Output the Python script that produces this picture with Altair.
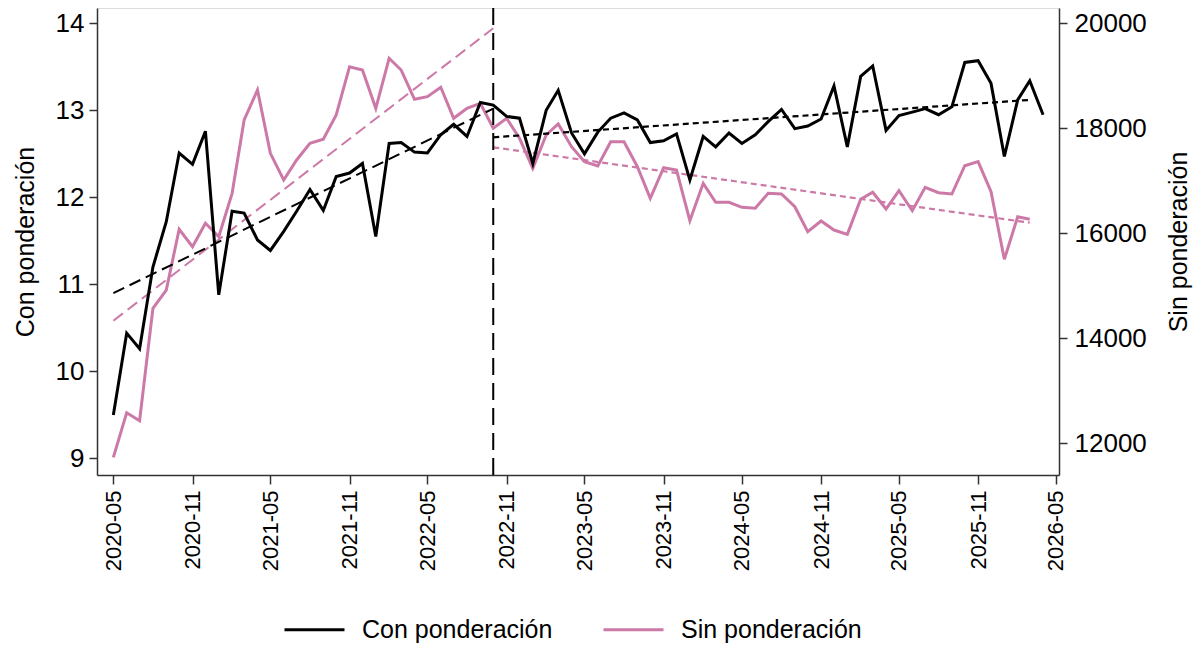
import altair as alt
import pandas as pd

# ---------------- data ----------------
months = pd.date_range("2020-05-01", periods=72, freq="MS")
dates = [d.strftime("%Y-%m-%dT00:00:00") for d in months]

con_ponderacion = [
    9.50, 10.44, 10.26, 11.20, 11.72, 12.51, 12.38, 12.76, 10.88, 11.84, 11.82, 11.51,
    11.39, 11.61, 11.84, 12.09, 11.85, 12.24, 12.28, 12.39, 11.55, 12.62, 12.63, 12.52,
    12.51, 12.72, 12.84, 12.70, 13.09, 13.06, 12.93, 12.91, 12.39, 13.00, 13.23, 12.74,
    12.50, 12.75, 12.91, 12.97, 12.89, 12.63, 12.65, 12.73, 12.20, 12.70, 12.58, 12.74,
    12.62, 12.72, 12.87, 13.01, 12.79, 12.82, 12.90, 13.28, 12.58, 13.39, 13.51, 12.77,
    12.94, 12.98, 13.02, 12.95, 13.04, 13.55, 13.57, 13.31, 12.47, 13.12, 13.34, 12.95,
]
sin_ponderacion = [
    11732, 12582, 12430, 14571, 14919, 16076, 15744, 16190, 15935, 16761, 18158, 18729,
    17523, 17015, 17396, 17714, 17790, 18253, 19173, 19110, 18381, 19333, 19110, 18552,
    18602, 18781, 18190, 18381, 18476, 18000, 18190, 17809, 17238, 17872, 18082, 17649,
    17364, 17282, 17744, 17744, 17268, 16666, 17249, 17205, 16240, 16952, 16590, 16590,
    16495, 16476, 16762, 16748, 16506, 16030, 16234, 16062, 15980, 16647, 16781, 16462,
    16811, 16430, 16876, 16773, 16748, 17287, 17364, 16792, 15504, 16316, 16266, None,
]

series_names = ["Con ponderación", "Sin ponderación"]
series_colors = ["#000000", "#CC79A7"]

break_date = ["2022-10-01T00:00:00"]
pre_dates = ["2020-05-01T00:00:00", "2022-10-01T00:00:00"]
pre_con = [10.90, 13.02]
pre_sin = [14335, 19905]
post_dates = ["2022-10-01T00:00:00", "2026-03-01T00:00:00"]
post_con = [12.69, 13.12]
post_sin = [17638, 16202]

x_tick_labels = ["2020-05", "2020-11", "2021-05", "2021-11", "2022-05", "2022-11",
                 "2023-05", "2023-11", "2024-05", "2024-11", "2025-05", "2025-11", "2026-05"]
left_ticks = [9, 10, 11, 12, 13, 14]
right_ticks = [12000, 14000, 16000, 18000, 20000]

# ---------------- tables ----------------
df = pd.DataFrame({"date": dates, "con": con_ponderacion, "sin": sin_ponderacion})
df_pre = pd.DataFrame({"date": pre_dates, "con": pre_con, "sin": pre_sin})
df_post = pd.DataFrame({"date": post_dates, "con": post_con, "sin": post_sin})
df_break = pd.DataFrame({"date": break_date})

FONT = "Liberation Sans"
AXC = "#333333"

x_values = [alt.DateTime(year=int(s[:4]), month=int(s[5:]), date=1) for s in x_tick_labels]
x_enc = alt.X(
    "date:T",
    scale=alt.Scale(
        domain=[alt.DateTime(year=2020, month=3, date=24), alt.DateTime(year=2026, month=5, date=8)],
        nice=False,
    ),
    axis=alt.Axis(
        values=x_values, format="%Y-%m", labelAngle=270, title=None, grid=False,
        tickSize=9, labelPadding=6, labelFontSize=22, labelFont=FONT,
        domainColor=AXC, tickColor=AXC, domainWidth=1.5, tickWidth=1.5,
        labelColor="black",
    ),
)

left_scale = alt.Scale(domain=[8.81, 14.176], nice=False, zero=False)
right_scale = alt.Scale(domain=[11396, 20291], nice=False, zero=False)

color_enc = alt.Color(
    "serie:N",
    scale=alt.Scale(domain=series_names, range=series_colors),
    legend=alt.Legend(
        title=None, orient="none", direction="horizontal", legendX=186, legendY=590,
        symbolType="stroke", symbolSize=3600, symbolStrokeWidth=3,
        labelFontSize=25, labelFont=FONT, labelColor="black", labelLimit=400,
        labelOffset=16, columnPadding=44, padding=0,
    ),
)

black_line = (
    alt.Chart(df)
    .transform_calculate(serie="'Con ponderación'")
    .mark_line(strokeWidth=3)
    .encode(
        x=x_enc,
        y=alt.Y(
            "con:Q", scale=left_scale,
            axis=alt.Axis(
                orient="left", values=left_ticks, title="Con ponderación", grid=False,
                tickSize=8, labelPadding=5, labelFontSize=26, labelFont=FONT,
                titleFontSize=25, titleFont=FONT, titleFontWeight="normal",
                titlePadding=17, domainColor=AXC, tickColor=AXC,
                domainWidth=1.5, tickWidth=1.5, labelColor="black", titleColor="black",
            ),
        ),
        color=color_enc,
    )
)
black_pre = alt.Chart(df_pre).mark_line(strokeWidth=2, strokeDash=[12, 6], color="#000000").encode(
    x="date:T", y=alt.Y("con:Q", scale=left_scale, axis=None))
black_post = alt.Chart(df_post).mark_line(strokeWidth=2.2, strokeDash=[6, 4], color="#000000").encode(
    x="date:T", y=alt.Y("con:Q", scale=left_scale, axis=None))
vrule = alt.Chart(df_break).mark_rule(strokeWidth=2, strokeDash=[17, 8], color="#000000").encode(
    x="date:T")

pink_line = (
    alt.Chart(df)
    .transform_calculate(serie="'Sin ponderación'")
    .mark_line(strokeWidth=3)
    .encode(
        x=x_enc,
        y=alt.Y(
            "sin:Q", scale=right_scale,
            axis=alt.Axis(
                orient="right", values=right_ticks, format="d", title="Sin ponderación", grid=False,
                tickSize=8, labelPadding=7, labelFontSize=26, labelFont=FONT,
                titleFontSize=25, titleFont=FONT, titleFontWeight="normal",
                titleAngle=270, titleBaseline="top", titlePadding=20,
                domainColor=AXC, tickColor=AXC, domainWidth=1.5, tickWidth=1.5,
                labelColor="black", titleColor="black",
            ),
        ),
        color=color_enc,
    )
)
pink_pre = alt.Chart(df_pre).mark_line(strokeWidth=2, strokeDash=[12, 6], color="#CC79A7").encode(
    x="date:T", y=alt.Y("sin:Q", scale=right_scale, axis=None))
pink_post = alt.Chart(df_post).mark_line(strokeWidth=2.2, strokeDash=[6, 4], color="#CC79A7").encode(
    x="date:T", y=alt.Y("sin:Q", scale=right_scale, axis=None))

chart = (
    alt.layer(pink_line, pink_pre, pink_post, black_line, black_pre, black_post, vrule)
    .resolve_scale(y="independent")
    .properties(
        width=962, height=467,
        autosize=alt.AutoSizeParams(type="none"),
        padding={"left": 89, "top": 0, "right": 134, "bottom": 169},
        background="white",
    )
    .configure_view(strokeWidth=0)
    .configure(font=FONT)
)

chart.save("out.html", embed_options={"renderer": "svg", "actions": False})
